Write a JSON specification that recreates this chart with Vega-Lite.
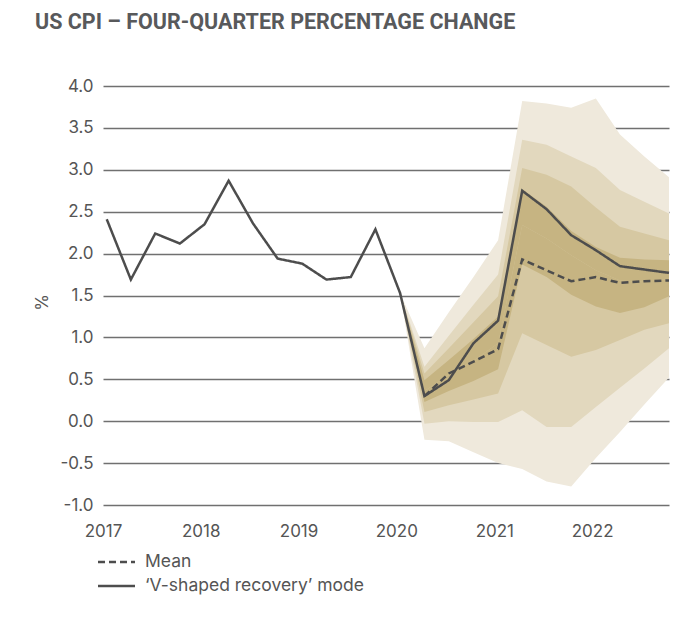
{
  "$schema": "https://vega.github.io/schema/vega-lite/v6.json",
  "width": 566,
  "height": 419,
  "autosize": {"type": "none"},
  "padding": {"left": 103, "top": 86, "right": 28, "bottom": 132},
  "background": "white",
  "title": {
    "text": "US CPI – FOUR-QUARTER PERCENTAGE CHANGE",
    "anchor": "start",
    "frame": "group",
    "dx": -68,
    "offset": 27,
    "baseline": "alphabetic",
    "font": "Roboto",
    "fontSize": 21.5,
    "fontWeight": "bold",
    "color": "#58595b"
  },
  "config": {
    "view": {"stroke": null},
    "font": "Inter"
  },
  "data": {
    "values": [
      {"date": "2017-01-15", "mode": 2.41, "mean": null, "t3": null, "t2": null, "t1": null, "t0": null, "m": null, "b0": null, "b1": null, "b2": null, "b3": null},
      {"date": "2017-04-15", "mode": 1.69, "mean": null, "t3": null, "t2": null, "t1": null, "t0": null, "m": null, "b0": null, "b1": null, "b2": null, "b3": null},
      {"date": "2017-07-15", "mode": 2.24, "mean": null, "t3": null, "t2": null, "t1": null, "t0": null, "m": null, "b0": null, "b1": null, "b2": null, "b3": null},
      {"date": "2017-10-15", "mode": 2.12, "mean": null, "t3": null, "t2": null, "t1": null, "t0": null, "m": null, "b0": null, "b1": null, "b2": null, "b3": null},
      {"date": "2018-01-15", "mode": 2.35, "mean": null, "t3": null, "t2": null, "t1": null, "t0": null, "m": null, "b0": null, "b1": null, "b2": null, "b3": null},
      {"date": "2018-04-15", "mode": 2.87, "mean": null, "t3": null, "t2": null, "t1": null, "t0": null, "m": null, "b0": null, "b1": null, "b2": null, "b3": null},
      {"date": "2018-07-15", "mode": 2.36, "mean": null, "t3": null, "t2": null, "t1": null, "t0": null, "m": null, "b0": null, "b1": null, "b2": null, "b3": null},
      {"date": "2018-10-15", "mode": 1.94, "mean": null, "t3": null, "t2": null, "t1": null, "t0": null, "m": null, "b0": null, "b1": null, "b2": null, "b3": null},
      {"date": "2019-01-15", "mode": 1.88, "mean": null, "t3": null, "t2": null, "t1": null, "t0": null, "m": null, "b0": null, "b1": null, "b2": null, "b3": null},
      {"date": "2019-04-15", "mode": 1.69, "mean": null, "t3": null, "t2": null, "t1": null, "t0": null, "m": null, "b0": null, "b1": null, "b2": null, "b3": null},
      {"date": "2019-07-15", "mode": 1.72, "mean": null, "t3": null, "t2": null, "t1": null, "t0": null, "m": null, "b0": null, "b1": null, "b2": null, "b3": null},
      {"date": "2019-10-15", "mode": 2.29, "mean": null, "t3": null, "t2": null, "t1": null, "t0": null, "m": null, "b0": null, "b1": null, "b2": null, "b3": null},
      {"date": "2020-01-15", "mode": 1.53, "mean": null, "t3": 1.53, "t2": 1.53, "t1": 1.53, "t0": 1.53, "m": 1.53, "b0": 1.53, "b1": 1.53, "b2": 1.53, "b3": 1.53},
      {"date": "2020-04-15", "mode": 0.30, "mean": 0.30, "t3": 0.87, "t2": 0.65, "t1": 0.57, "t0": 0.49, "m": 0.36, "b0": 0.23, "b1": 0.11, "b2": -0.03, "b3": -0.22},
      {"date": "2020-07-15", "mode": 0.49, "mean": 0.57, "t3": 1.30, "t2": 1.02, "t1": 0.87, "t0": 0.73, "m": 0.55, "b0": 0.36, "b1": 0.19, "b2": 0.00, "b3": -0.24},
      {"date": "2020-10-15", "mode": 0.93, "mean": 0.71, "t3": 1.72, "t2": 1.39, "t1": 1.18, "t0": 0.98, "m": 0.72, "b0": 0.48, "b1": 0.26, "b2": -0.01, "b3": -0.37},
      {"date": "2021-01-15", "mode": 1.20, "mean": 0.86, "t3": 2.16, "t2": 1.75, "t1": 1.49, "t0": 1.25, "m": 0.93, "b0": 0.62, "b1": 0.33, "b2": -0.01, "b3": -0.50},
      {"date": "2021-04-15", "mode": 2.75, "mean": 1.93, "t3": 3.82, "t2": 3.36, "t1": 3.02, "t0": 2.77, "m": 2.34, "b0": 1.87, "b1": 1.05, "b2": 0.13, "b3": -0.57},
      {"date": "2021-07-15", "mode": 2.53, "mean": 1.80, "t3": 3.79, "t2": 3.30, "t1": 2.94, "t0": 2.56, "m": 2.18, "b0": 1.72, "b1": 0.91, "b2": -0.07, "b3": -0.72},
      {"date": "2021-10-15", "mode": 2.22, "mean": 1.67, "t3": 3.74, "t2": 3.16, "t1": 2.80, "t0": 2.27, "m": 1.98, "b0": 1.51, "b1": 0.77, "b2": -0.07, "b3": -0.78},
      {"date": "2022-01-15", "mode": 2.04, "mean": 1.72, "t3": 3.85, "t2": 3.02, "t1": 2.55, "t0": 2.08, "m": 1.80, "b0": 1.37, "b1": 0.85, "b2": 0.17, "b3": -0.44},
      {"date": "2022-04-15", "mode": 1.85, "mean": 1.65, "t3": 3.42, "t2": 2.76, "t1": 2.32, "t0": 1.95, "m": 1.68, "b0": 1.29, "b1": 0.97, "b2": 0.40, "b3": -0.13},
      {"date": "2022-07-15", "mode": 1.81, "mean": 1.67, "t3": 3.16, "t2": 2.62, "t1": 2.24, "t0": 1.93, "m": 1.66, "b0": 1.36, "b1": 1.09, "b2": 0.63, "b3": 0.20},
      {"date": "2022-10-15", "mode": 1.77, "mean": 1.68, "t3": 2.91, "t2": 2.48, "t1": 2.16, "t0": 1.92, "m": 1.70, "b0": 1.49, "b1": 1.17, "b2": 0.87, "b3": 0.52}
    ]
  },
  "encoding": {
    "x": {
      "field": "date",
      "type": "temporal",
      "scale": {
        "type": "utc",
        "domain": [
          {"year": 2017, "month": 1, "date": 1, "utc": true},
          {"year": 2022, "month": 10, "date": 15, "utc": true}
        ]
      },
      "axis": {
        "title": null,
        "values": [
          {"year": 2017, "utc": true},
          {"year": 2018, "utc": true},
          {"year": 2019, "utc": true},
          {"year": 2020, "utc": true},
          {"year": 2021, "utc": true},
          {"year": 2022, "utc": true}
        ],
        "format": "%Y",
        "grid": false,
        "domain": false,
        "ticks": false,
        "tickSize": 0,
        "labelPadding": 18,
        "labelFont": "Inter",
        "labelFontSize": 17,
        "labelColor": "#555555",
        "labelFlush": false,
        "labelOverlap": false
      }
    },
    "y": {
      "type": "quantitative",
      "scale": {"domain": [-1, 4], "nice": false, "zero": false},
      "axis": {
        "title": "%",
        "titleFont": "Inter",
        "titleFontSize": 17,
        "titleFontWeight": "normal",
        "titleColor": "#555555",
        "titleX": -61,
        "titleY": 216,
        "titleAngle": -90,
        "titleAlign": "center",
        "titleBaseline": "middle",
        "values": [-1, -0.5, 0, 0.5, 1, 1.5, 2, 2.5, 3, 3.5, 4],
        "labelExpr": "replace(format(datum.value, '.1f'), '\u2212', '-')",
        "labelFont": "Inter",
        "labelFontSize": 17,
        "labelColor": "#555555",
        "labelPadding": 10,
        "domain": false,
        "ticks": false,
        "tickSize": 0,
        "grid": true,
        "gridColor": "#707070",
        "gridWidth": 1.3
      }
    }
  },
  "layer": [
    {
      "mark": {"type": "area", "color": "#efe9dc", "opacity": 1},
      "encoding": {
        "y": {"field": "t3", "type": "quantitative"},
        "y2": {"field": "b3"}
      }
    },
    {
      "mark": {"type": "area", "color": "#e2d8be", "opacity": 1},
      "encoding": {
        "y": {"field": "t2", "type": "quantitative"},
        "y2": {"field": "b2"}
      }
    },
    {
      "mark": {"type": "area", "color": "#d6c8a2", "opacity": 1},
      "encoding": {
        "y": {"field": "t1", "type": "quantitative"},
        "y2": {"field": "b1"}
      }
    },
    {
      "mark": {"type": "area", "color": "#c6b482", "opacity": 1},
      "encoding": {
        "y": {"field": "t0", "type": "quantitative"},
        "y2": {"field": "m"}
      }
    },
    {
      "mark": {"type": "area", "color": "#c6b482", "opacity": 1},
      "encoding": {
        "y": {"field": "m", "type": "quantitative"},
        "y2": {"field": "b0"}
      }
    },
    {
      "transform": [{"fold": ["mean", "mode"], "as": ["series", "value"]}],
      "mark": {"type": "line", "color": "#4d4d4d", "strokeWidth": 2.5},
      "encoding": {
        "y": {"field": "value", "type": "quantitative"},
        "strokeDash": {
          "field": "series",
          "type": "nominal",
          "scale": {"domain": ["mean", "mode"], "range": [[7, 4], [1, 0]]},
          "legend": {
            "title": null,
            "orient": "none",
            "legendX": 3,
            "legendY": 465.5,
            "direction": "vertical",
            "symbolType": "M-2,0H2",
            "symbolSize": 342,
            "symbolStrokeWidth": 2.5,
            "symbolStrokeColor": "#4d4d4d",
            "symbolFillColor": "transparent",
            "labelFont": "Inter",
            "labelFontSize": 17.5,
            "labelColor": "#555555",
            "labelOffset": 18,
            "labelLimit": 0,
            "rowPadding": 5,
            "labelExpr": "datum.label == 'mean' ? 'Mean' : '\u2018V-shaped recovery\u2019 mode'"
          }
        }
      }
    }
  ]
}
